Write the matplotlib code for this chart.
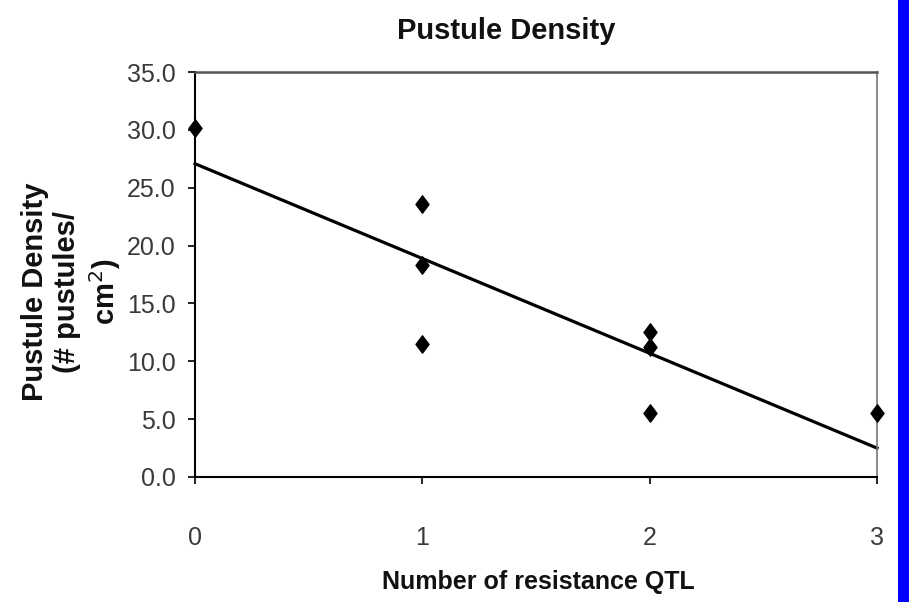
import matplotlib
matplotlib.use("Agg")
import matplotlib.pyplot as plt
import numpy as np
from matplotlib.patches import Rectangle
from matplotlib.path import Path

# Data
qtl = [0, 1, 1, 1, 2, 2, 2, 3]
density = [30.2, 23.6, 18.3, 11.5, 12.5, 11.2, 5.5, 5.5]
x_ticks = [0, 1, 2, 3]
y_ticks = [0, 5, 10, 15, 20, 25, 30, 35]

sans = ['Liberation Sans', 'DejaVu Sans']

fig = plt.figure(figsize=(9.09, 6.02), dpi=100)
fig.patch.set_facecolor('white')
ax = fig.add_axes([195/909, 1-477/602, (877-195)/909, (477-72)/602])

diamond = Path([(0, 1), (0.75, 0), (0, -1), (-0.75, 0), (0, 1)],
               [Path.MOVETO, Path.LINETO, Path.LINETO, Path.LINETO, Path.CLOSEPOLY])

ax.plot(qtl, density, linestyle='none', marker=diamond, markersize=12.5,
        color='black', zorder=3, clip_on=False)

# linear trendline
coef = np.polyfit(qtl, density, 1)
xs = np.array([x_ticks[0], x_ticks[-1]])
ax.plot(xs, np.polyval(coef, xs), color='black', lw=2.3, zorder=2, clip_on=False)

ax.set_xlim(0, 3)
ax.set_ylim(0, 35)
ax.set_xticks(x_ticks)
ax.set_xticklabels([str(v) for v in x_ticks])
ax.set_yticks(y_ticks)
ax.set_yticklabels([f"{v:.1f}" for v in y_ticks])

for lab in ax.get_xticklabels() + ax.get_yticklabels():
    lab.set_fontfamily(sans)
    lab.set_fontsize(18)
    lab.set_color('#3a3a3a')

ax.tick_params(axis='both', direction='out', length=5, width=1.2, color='black')
ax.tick_params(axis='y', pad=9)
ax.tick_params(axis='x', pad=30)

ax.spines['left'].set_color('black')
ax.spines['bottom'].set_color('black')
ax.spines['left'].set_linewidth(1.5)
ax.spines['bottom'].set_linewidth(1.5)
ax.spines['top'].set_color('#555555')
ax.spines['right'].set_color('#777777')
ax.spines['top'].set_linewidth(1.8)
ax.spines['right'].set_linewidth(1.2)

fig.text(506/909, 1-31/602, "Pustule Density", ha='center', va='center',
         fontsize=21, fontweight='bold', family=sans, color='#111111')
fig.text(538/909, 1-582/602, "Number of resistance QTL", ha='center', va='center',
         fontsize=18, fontweight='bold', family=sans, color='#111111')
fig.text(72/909, 1-292/602, "Pustule Density\n(# pustules/\ncm$^2$)", rotation=90,
         ha='center', va='center', multialignment='center', linespacing=1.2,
         fontsize=21, fontweight='bold', family=sans, color='#111111')

fig.patches.append(Rectangle((898/909, 0), 11/909, 1, transform=fig.transFigure,
                             facecolor='#0000ff', edgecolor='none', zorder=10))

fig.savefig("out.png", dpi=100, facecolor='white')
